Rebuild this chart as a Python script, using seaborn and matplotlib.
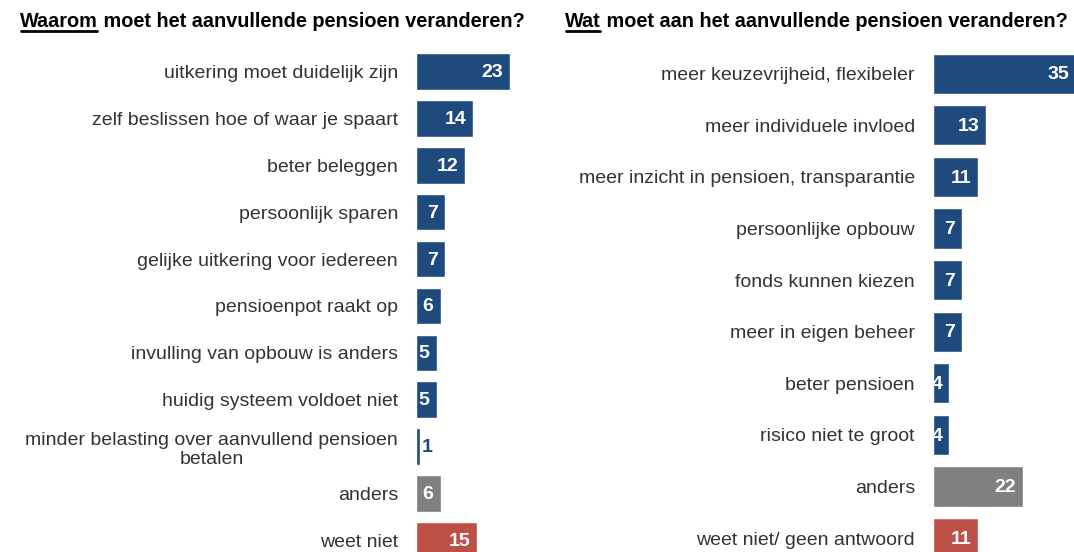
import matplotlib
matplotlib.use('Agg')
import matplotlib.pyplot as plt
from matplotlib.lines import Line2D
import seaborn as sns

BLUE = '#1F4A7E'
GREY = '#808080'
RED = '#BE5048'

left_labels = ['uitkering moet duidelijk zijn', 'zelf beslissen hoe of waar je spaart',
               'beter beleggen', 'persoonlijk sparen', 'gelijke uitkering voor iedereen',
               'pensioenpot raakt op', 'invulling van opbouw is anders',
               'huidig systeem voldoet niet',
               'minder belasting over aanvullend pensioen\nbetalen',
               'anders', 'weet niet']
left_values = [23, 14, 12, 7, 7, 6, 5, 5, 1, 6, 15]
left_colors = [BLUE] * 9 + [GREY, RED]

right_labels = ['meer keuzevrijheid, flexibeler', 'meer individuele invloed',
                'meer inzicht in pensioen, transparantie', 'persoonlijke opbouw',
                'fonds kunnen kiezen', 'meer in eigen beheer', 'beter pensioen',
                'risico niet te groot', 'anders', 'weet niet/ geen antwoord']
right_values = [35, 13, 11, 7, 7, 7, 4, 4, 22, 11]
right_colors = [BLUE] * 8 + [GREY, RED]

sns.set_theme(style='white')
plt.rcParams['font.family'] = ['Liberation Sans', 'DejaVu Sans']

fig = plt.figure(figsize=(10.74, 5.52), dpi=100)
W, H = 1074, 552


def draw_panel(rect, labels, values, colors, xmax):
    ax = fig.add_axes(rect)
    sns.barplot(x=values, y=labels, hue=labels, palette=colors, legend=False,
                width=0.78, saturation=1, ax=ax, orient='h')
    ax.set_xlim(0, xmax)
    ax.set_ylim(len(labels) - 0.5, -0.5)
    for s in ax.spines.values():
        s.set_visible(False)
    ax.set_xticks([])
    ax.set_xlabel('')
    ax.set_ylabel('')
    ax.tick_params(axis='y', length=0, pad=13, labelsize=14, labelcolor='#333333')
    for t in ax.get_yticklabels():
        t.set_multialignment('center')
    px = xmax / (rect[2] * W)
    for i, v in enumerate(values):
        if v >= 3:
            ax.text(v - 7 * px, i + 0.02, str(v), ha='right', va='center', color='white',
                    fontsize=14, fontweight='bold')
        else:
            ax.text(v + 2 * px, i + 0.02, str(v), ha='left', va='center', color=BLUE,
                    fontsize=14, fontweight='bold')
    return ax


draw_panel([416 / W, -0.0217, 123 / W, 0.9348], left_labels, left_values, left_colors, 30)
draw_panel([933 / W, -0.0217, 143 / W, 0.9348], right_labels, right_values, right_colors, 35)


def title(x, y, first, rest):
    t1 = fig.text(x, y, first, fontsize=14.3, fontweight='bold', va='baseline', ha='left',
                  color='black')
    fig.canvas.draw()
    r = fig.canvas.get_renderer()
    bb = t1.get_window_extent(r)
    x1 = bb.x1 / W
    fig.text(x1, y, ' ' + rest, fontsize=14.3, fontweight='bold', va='baseline', ha='left',
             color='black')
    yl = y - 4 / H
    fig.add_artist(Line2D([bb.x0 / W + 1 / W, x1 - 1 / W], [yl, yl], color='black', lw=2,
                          transform=fig.transFigure))


title(20 / W, 1 - 27 / H, 'Waarom', 'moet het aanvullende pensioen veranderen?')
title(565 / W, 1 - 27 / H, 'Wat', 'moet aan het aanvullende pensioen veranderen?')

fig.savefig('out.png', dpi=100)
